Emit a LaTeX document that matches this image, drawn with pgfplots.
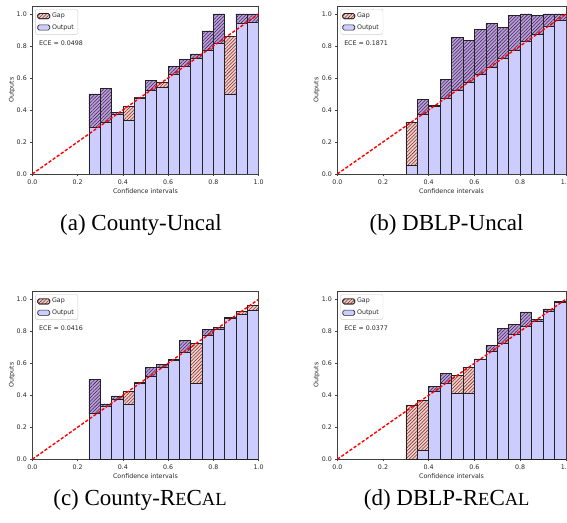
\documentclass[border=0pt]{standalone}
\usepackage{fontspec}
\setmainfont{DejaVu Sans}
\newfontfamily\capfont{Liberation Serif}
\usepackage{pgfplots}
\pgfplotsset{compat=1.18}
\usepackage{pgfplotstable}
\usetikzlibrary{patterns.meta}

\definecolor{outlav}{RGB}{204,204,255}
\definecolor{gapsal}{RGB}{252,203,198}
\definecolor{gappur}{RGB}{188,160,220}
\definecolor{hatchsal}{RGB}{100,55,55}
\definecolor{hatchpur}{RGB}{60,35,80}
\definecolor{edgec}{RGB}{35,35,35}

% x = bin centre, lav = lower (output) part, sal = gap above output, pur = gap inside output
\pgfplotstableread{
x lav sal pur
0.275 0.292 0 0.208
0.325 0.326 0 0.211
0.375 0.375 0 0.008
0.425 0.333 0.087 0
0.475 0.475 0 0.005
0.525 0.522 0 0.065
0.575 0.539 0.035 0
0.625 0.624 0 0.048
0.675 0.670 0 0.046
0.725 0.720 0 0.030
0.775 0.775 0 0.119
0.825 0.818 0 0.182
0.875 0.500 0.362 0
0.925 0.942 0 0.058
0.975 0.950 0 0.050
}\tA
\pgfplotstableread{
x lav sal pur
0.325 0.056 0.268 0
0.375 0.374 0 0.094
0.425 0.424 0 0.003
0.475 0.474 0 0.115
0.525 0.524 0 0.330
0.575 0.574 0 0.259
0.625 0.624 0 0.282
0.675 0.666 0 0.273
0.725 0.720 0 0.196
0.775 0.775 0 0.215
0.825 0.831 0 0.169
0.875 0.873 0 0.117
0.925 0.925 0 0.075
0.975 0.960 0 0.040
}\tB
\pgfplotstableread{
x lav sal pur
0.275 0.285 0 0.215
0.325 0.329 0 0.017
0.375 0.375 0 0.021
0.425 0.346 0.079 0
0.475 0.475 0 0.008
0.525 0.519 0 0.056
0.575 0.575 0 0.019
0.625 0.618 0 0.004
0.675 0.671 0 0.071
0.725 0.475 0.250 0
0.775 0.775 0 0.035
0.825 0.815 0 0.008
0.875 0.881 0 0.006
0.925 0.906 0.019 0
0.975 0.929 0.036 0
}\tC
\pgfplotstableread{
x lav sal pur
0.325 0.000 0.335 0
0.375 0.056 0.313 0
0.425 0.425 0 0.029
0.475 0.475 0 0.063
0.525 0.4125 0.110 0
0.575 0.4125 0.1625 0
0.625 0.623 0 0.004
0.675 0.675 0 0.035
0.725 0.725 0 0.094
0.775 0.781 0 0.063
0.825 0.831 0 0.090
0.875 0.865 0 0.008
0.925 0.925 0 0.015
0.975 0.981 0 0.004
}\tD

\tikzset{sfont/.style={font=\fontsize{6.3}{7.5}\selectfont}}
\pgfplotsset{
  panel/.style={scale only axis, height=168pt, xmin=0, xmax=1, ymin=0, ymax=1.05, anchor=south west},
  barsaxis/.style={panel, ybar stacked, bar width=0.05,
    xtick={0,0.2,0.4,0.6,0.8,1}, ytick={0,0.2,0.4,0.6,0.8,1},
    /pgf/number format/assume math mode=true,
    /pgf/number format/fixed, /pgf/number format/fixed zerofill, /pgf/number format/precision=1,
    tick label style={sfont, text=black!85},
    tick align=outside, tick pos=left, major tick length=2pt,
    tick style={black!75, line width=0.5pt},
    axis line style={black!75, line width=0.5pt},
    xlabel={Confidence intervals}, ylabel={Outputs},
    label style={sfont, text=black!85},
    xlabel style={at={(axis description cs:0.5,-0.1)}, anchor=center},
    ylabel style={at={(axis description cs:-0.09,0.5)}, anchor=center},
  },
  outstyle/.style={fill=outlav, draw=edgec, line width=0.6pt},
  salstyle/.style={fill=gapsal, draw=edgec, line width=0.6pt,
    postaction={pattern={Lines[angle=45,distance=2.4pt,line width=0.55pt]}, pattern color=hatchsal}},
  purstyle/.style={fill=gappur, draw=edgec, line width=0.6pt,
    postaction={pattern={Lines[angle=45,distance=2.4pt,line width=0.55pt]}, pattern color=hatchpur}},
  overaxis/.style={panel, hide axis,
    legend style={at={(0.013,0.982)}, anchor=north west, draw=black!20, rounded corners=1.5pt,
      sfont, text=black!85, inner xsep=2pt, inner ysep=1.8pt, row sep=1.2pt, cells={anchor=west}},
    legend image code/.code={\draw[##1] (0pt,-2.6pt) rectangle (12pt,2.6pt);},
  },
}

\newcommand{\panel}[4]{%
  \begin{axis}[barsaxis, width=#2, at={#3}]
    \addplot[outstyle] table[x=x, y=lav]{#1};
    \addplot[salstyle] table[x=x, y=sal]{#1};
    \addplot[purstyle] table[x=x, y=pur]{#1};
  \end{axis}
  \begin{axis}[overaxis, width=#2, at={#3}]
    \addlegendimage{salstyle}
    \addlegendentry{Gap}
    \addlegendimage{outstyle}
    \addlegendentry{Output}
    \addplot[red, line width=1.4pt, dash pattern=on 3.2pt off 1.8pt, forget plot] coordinates {(0,0) (1,1)};
    \node[anchor=west, sfont, text=black!85] at (axis cs:0.015,0.82) {ECE = #4};
  \end{axis}%
}

\begin{document}
\begin{tikzpicture}
  \panel{\tA}{226.3pt}{(32.3pt,348pt)}{0.0498}
  \panel{\tB}{228.5pt}{(337.3pt,348pt)}{0.1871}
  \panel{\tC}{226.3pt}{(32.3pt,62.7pt)}{0.0416}
  \panel{\tD}{228.5pt}{(337.3pt,62.7pt)}{0.0377}
  \begin{scope}[font=\capfont\fontsize{23}{26}\selectfont]
    \node at (141pt,297pt) {(a) County-Uncal};
    \node at (446.6pt,297pt) {(b) DBLP-Uncal};
    \node at (140pt,22pt) {(c) County-R{\fontsize{18.5}{20}\selectfont E}C{\fontsize{18.5}{20}\selectfont AL}};
    \node at (446.7pt,22pt) {(d) DBLP-R{\fontsize{18.5}{20}\selectfont E}C{\fontsize{18.5}{20}\selectfont AL}};
  \end{scope}
  \pgfresetboundingbox
  \path[use as bounding box] (0,0) rectangle (567pt,522pt);
\end{tikzpicture}
\end{document}
